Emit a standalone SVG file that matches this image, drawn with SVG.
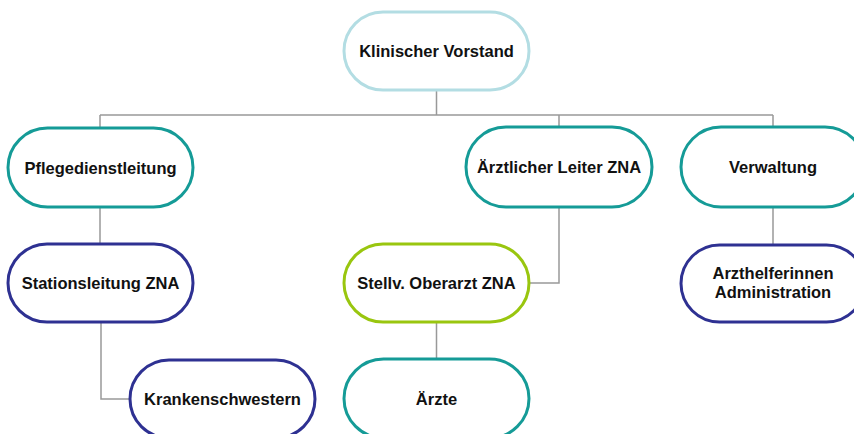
<svg xmlns="http://www.w3.org/2000/svg" width="854" height="434" viewBox="0 0 854 434">
<style>
.n{fill:#fff;stroke-width:3}
.lb{stroke:#b3dde3}
.tl{stroke:#159b97}
.db{stroke:#2e3192}
.gr{stroke:#99c60f}
text{font-family:"Liberation Sans",Arial,sans-serif;font-weight:bold;font-size:16.5px;fill:#111;text-anchor:middle}
.c{fill:none;stroke:#999;stroke-width:1.5}
</style>
<rect width="854" height="434" fill="#fff"/>
<g id="connectors">
<path class="c" d="M436.5 90V115M100 115H773M100 115V128M559 115V127M773 115V127"/>
<path class="c" d="M100 207V244M101 322V399H130"/>
<path class="c" d="M559 207V283H529M436.5 322V359"/>
<path class="c" d="M773 207V245"/>
</g>
<g id="klinischer-vorstand"><rect class="n lb" x="344" y="12" width="185" height="78" rx="39"/><text x="436.5" y="57">Klinischer Vorstand</text></g>
<g id="pflegedienstleitung"><rect class="n tl" x="8" y="128" width="185" height="79" rx="39.5"/><text x="100.5" y="173.5">Pflegedienstleitung</text></g>
<g id="aerztlicher-leiter"><rect class="n tl" x="466" y="127" width="186" height="80" rx="40"/><text x="559" y="173">Ärztlicher Leiter ZNA</text></g>
<g id="verwaltung"><rect class="n tl" x="681" y="127" width="184" height="80" rx="40"/><text x="773" y="173">Verwaltung</text></g>
<g id="stationsleitung"><rect class="n db" x="8" y="244" width="185" height="78" rx="39"/><text x="100.5" y="289">Stationsleitung ZNA</text></g>
<g id="stellv-oberarzt"><rect class="n gr" x="344" y="244" width="185" height="78" rx="39"/><text x="436.5" y="289">Stellv. Oberarzt ZNA</text></g>
<g id="arzthelferinnen"><rect class="n db" x="681" y="245" width="184" height="77" rx="38.5"/><text x="773" y="279">Arzthelferinnen</text><text x="773" y="298">Administration</text></g>
<g id="krankenschwestern"><rect class="n db" x="130" y="360" width="185" height="78" rx="39"/><text x="222.5" y="405">Krankenschwestern</text></g>
<g id="aerzte"><rect class="n tl" x="344" y="359" width="185" height="79" rx="39.5"/><text x="436.5" y="404.5">Ärzte</text></g>
</svg>
